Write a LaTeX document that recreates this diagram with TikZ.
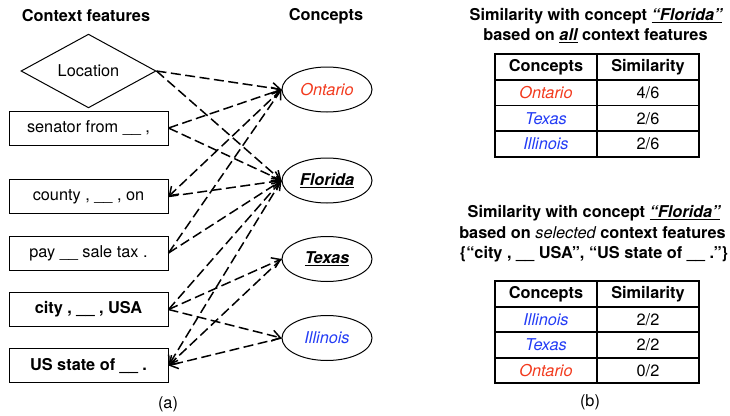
\documentclass[tikz,border=0pt]{standalone}
\usepackage{fontspec}
\setmainfont{TeX Gyre Heros}
\usetikzlibrary{shapes.geometric,arrows.meta}
\definecolor{ontred}{RGB}{242,58,30}
\definecolor{usblue}{RGB}{35,60,245}
\newcommand\basefs{\fontsize{16.3pt}{19pt}\selectfont}
\begin{document}
\begin{tikzpicture}[x=1pt,y=-1pt,
  every node/.style={font=\basefs, inner sep=0pt},
  featbox/.style={draw, line width=1pt, minimum width=159pt, minimum height=34pt},
  featdiam/.style={draw, diamond, line width=1pt, minimum width=135pt, minimum height=56pt},
  concept/.style={draw, ellipse, line width=1pt, minimum width=90pt, minimum height=45pt},
  link/.style={line width=1.5pt, dash pattern=on 10pt off 4.5pt, -{Straight Barb[length=8pt,width=11pt,line width=1.5pt]}},
  tabline/.style={line width=1.3pt},
  title/.style={font=\basefs\bfseries}
]
\useasboundingbox (0,0) rectangle (730,415);

% ---- (a) feature / concept graph ----
\node[title] (hfeat) at (86,16) {Context features};
\node[title] (hconc) at (326,16) {Concepts};

\node[featdiam] (loc) at (88.5,71) {Location};
\node[featbox] (sen) at (88.5,128) {senator from \_\_ ,};
\node[featbox] (cty) at (88.5,196.5) {county , \_\_ , on};
\node[featbox] (pay) at (88.5,253) {pay \_\_ sale tax .};
\node[featbox] (city) at (88.5,309.5) {\bfseries city , \_\_ , USA};
\node[featbox] (ust) at (88.5,365.5) {\bfseries US state of \_\_ .};

\node[concept] (ont) at (327,89.5) {\color{ontred}\itshape Ontario};
\node[concept] (flo) at (327,180.5) {\underline{\bfseries\itshape Florida}};
\node[concept] (tex) at (327,259) {\underline{\bfseries\itshape Texas}};
\node[concept] (ill) at (327,338) {\color{usblue}\itshape Illinois};

\draw[link] (loc.east) -- (ont.west);
\draw[link] (loc.east) -- (flo.west);
\draw[link] (sen.east) -- (ont.west);
\draw[link] (sen.east) -- (flo.west);
\draw[link] (ont.west) -- (cty.east);
\draw[link] (cty.east) -- (flo.west);
\draw[link] (pay.east) -- (ont.west);
\draw[link] (pay.east) -- (flo.west);
\draw[link] (city.east) -- (flo.west);
\draw[link] (city.east) -- (tex.west);
\draw[link] (city.east) -- (ill.west);
\draw[link] (flo.west) -- (ust.east);
\draw[link] (tex.west) -- (ust.east);
\draw[link] (ill.west) -- (ust.east);

\node (capa) at (168,404) {(a)};

% ---- (b) similarity tables ----
\node[title] (t1a) at (596,16) {Similarity with concept \underline{\itshape “Florida”}};
\node[title] (t1b) at (595.5,36) {based on \underline{\itshape all} context features};

\draw[tabline] (495,54) rectangle (699,157);
\draw[tabline] (495,80) -- (699,80);
\draw[tabline] (495,105.5) -- (699,105.5);
\draw[tabline] (495,131) -- (699,131);
\draw[tabline] (597,54) -- (597,157);
\node[title] (a11) at (546,67) {Concepts};
\node[title] (a12) at (648,67) {Similarity};
\node (a21) at (546,93) {\color{ontred}\itshape Ontario};
\node (a22) at (648,93) {4/6};
\node (a31) at (546,118.5) {\color{usblue}\itshape Texas};
\node (a32) at (648,118.5) {2/6};
\node (a41) at (546,144) {\color{usblue}\itshape Illinois};
\node (a42) at (648,144) {2/6};

\node[title] (t2a) at (594,213) {Similarity with concept \underline{\itshape “Florida”}};
\node[title] (t2b) at (592.5,233) {based on {\mdseries\itshape selected} context features};
\node[title] (t2c) at (594,254) {\{“city , \_\_ USA”, “US state of \_\_ .”\}};

\draw[tabline] (495,281) rectangle (699,383);
\draw[tabline] (495,307) -- (699,307);
\draw[tabline] (495,332) -- (699,332);
\draw[tabline] (495,358) -- (699,358);
\draw[tabline] (597,281) -- (597,383);
\node[title] (b11) at (546,294) {Concepts};
\node[title] (b12) at (648,294) {Similarity};
\node (b21) at (546,319.5) {\color{usblue}\itshape Illinois};
\node (b22) at (648,319.5) {2/2};
\node (b31) at (546,345) {\color{usblue}\itshape Texas};
\node (b32) at (648,345) {2/2};
\node (b41) at (546,370.5) {\color{ontred}\itshape Ontario};
\node (b42) at (648,370.5) {0/2};

\node (capb) at (590,402) {(b)};
\end{tikzpicture}
\end{document}
